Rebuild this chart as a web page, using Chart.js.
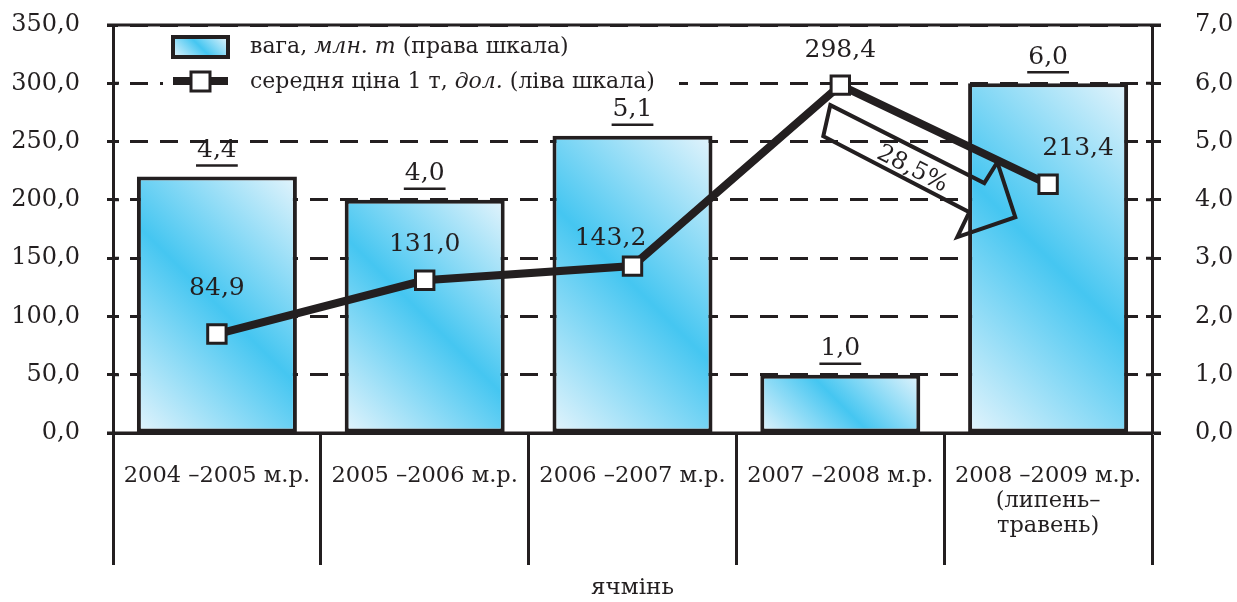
<!DOCTYPE html>
<html>
<head>
<meta charset="utf-8">
<script src="https://cdn.jsdelivr.net/npm/chart.js@4.4.0/dist/chart.umd.min.js"></script>
<style>
html, body { margin: 0; padding: 0; background: #fff; }
#wrap { width: 1237px; height: 602px; }
</style>
</head>
<body>
<div id="wrap"><canvas id="chart"></canvas></div>
<script>
const categories = [
    '2004 –2005 м.р.',
    '2005 –2006 м.р.',
    '2006 –2007 м.р.',
    '2007 –2008 м.р.',
    ['2008 –2009 м.р.', '(липень–', 'травень)']
];
const weightValues = [4.4, 4.0, 5.1, 1.0, 6.0];        // млн. т, right scale
const priceValues = [84.9, 131.0, 143.2, 298.4, 213.4]; // дол., left scale
const changeLabel = '28,5%';
const axisTitle = 'ячмінь';

const INK = '#231f20';
const CYAN = '#45c6f1';
const LIGHT = '#e4f4fc';
const FONT = '"DejaVu Serif", serif';
const BAR_FRACTION = 0.77;

const fmt = v => Number(v).toFixed(1).replace('.', ',');

function diagGradient(ctx, left, top, right, bottom) {
    const cx = (left + right) / 2, cy = (top + bottom) / 2;
    const d = ((right - left) + (bottom - top)) / 4;
    const g = ctx.createLinearGradient(cx - d, cy + d, cx + d, cy - d);
    g.addColorStop(0, LIGHT);
    g.addColorStop(0.5, CYAN);
    g.addColorStop(1, LIGHT);
    return g;
}

function barFill(c) {
    const chart = c.chart;
    const a = chart.chartArea;
    if (!a || c.type !== 'data') return CYAN;
    const half = (a.right - a.left) / categories.length * BAR_FRACTION / 2;
    const x = chart.scales.x.getPixelForValue(c.dataIndex);
    const top = chart.scales.y1.getPixelForValue(c.raw);
    const base = chart.scales.y1.getPixelForValue(0);
    return diagGradient(chart.ctx, x - half, top, x + half, base);
}

function drawRich(ctx, parts, x, y) {
    parts.forEach(([text, italic]) => {
        ctx.font = (italic ? 'italic ' : '') + '22px ' + FONT;
        ctx.fillText(text, x, y);
        x += ctx.measureText(text).width;
    });
}

// y axes: keep the plot top fixed, labels only need half their height
const fitY = width => s => {
    s.width = width;
    s.paddingTop = 12;
    s.paddingBottom = 12;
};

const decor = {
    id: 'decor',
    beforeDatasetsDraw(chart) {
        const {ctx, chartArea: a, scales} = chart;
        ctx.save();
        ctx.strokeStyle = INK;
        ctx.lineWidth = 3;
        ctx.beginPath();
        // solid top frame and base line
        ctx.moveTo(a.left - 6, a.top); ctx.lineTo(a.right + 9, a.top);
        ctx.moveTo(a.left - 6, a.bottom); ctx.lineTo(a.right + 9, a.bottom);
        // inner half of the tick marks
        scales.y.ticks.forEach(t => {
            const y = scales.y.getPixelForValue(t.value);
            ctx.moveTo(a.left, y); ctx.lineTo(a.left + 6, y);
            ctx.moveTo(a.right - 6, y); ctx.lineTo(a.right, y);
        });
        ctx.stroke();

        // legend
        const lx = a.left + 60;
        ctx.fillStyle = '#fff';
        ctx.fillRect(a.left + 50, a.top + 3, 516, 70);
        ctx.fillStyle = diagGradient(ctx, lx, a.top + 12, lx + 55, a.top + 32);
        ctx.fillRect(lx, a.top + 12, 55, 20);
        ctx.lineWidth = 4;
        ctx.strokeRect(lx, a.top + 12, 55, 20);
        ctx.lineWidth = 8;
        ctx.beginPath();
        ctx.moveTo(lx, a.top + 56); ctx.lineTo(lx + 55, a.top + 56);
        ctx.stroke();
        ctx.fillStyle = '#fff';
        ctx.lineWidth = 3;
        ctx.fillRect(lx + 18, a.top + 47, 19, 19);
        ctx.strokeRect(lx + 18, a.top + 47, 19, 19);

        ctx.fillStyle = INK;
        ctx.textBaseline = 'middle';
        ctx.textAlign = 'left';
        drawRich(ctx, [['вага, ', false], ['млн. т', true], [' (права шкала)', false]], a.left + 137, a.top + 22);
        drawRich(ctx, [['середня ціна 1 т, ', false], ['дол.', true], [' (ліва шкала)', false]], a.left + 137, a.top + 57);
        ctx.restore();
    },
    afterDatasetDraw(chart, args) {
        if (args.meta.type !== 'bar') return;
        // change arrow from the peak price point
        const p = chart.getDatasetMeta(0).data[3];
        const ctx = chart.ctx;
        const pts = [[-10, 20], [144, 98], [157, 77], [175, 132], [117, 152], [129, 127], [-17, 51]];
        ctx.save();
        ctx.strokeStyle = INK;
        ctx.lineWidth = 4;
        ctx.lineJoin = 'miter';
        ctx.beginPath();
        pts.forEach(([dx, dy], i) => {
            if (i === 0) ctx.moveTo(p.x + dx, p.y + dy);
            else ctx.lineTo(p.x + dx, p.y + dy);
        });
        ctx.closePath();
        ctx.stroke();
        ctx.translate(p.x + 72, p.y + 84);
        ctx.rotate(27 * Math.PI / 180);
        ctx.fillStyle = INK;
        ctx.font = '24px ' + FONT;
        ctx.textAlign = 'center';
        ctx.textBaseline = 'middle';
        ctx.fillText(changeLabel, 0, 0);
        ctx.restore();
    },
    afterDatasetsDraw(chart) {
        const ctx = chart.ctx;
        ctx.save();
        ctx.fillStyle = INK;
        ctx.strokeStyle = INK;
        ctx.textAlign = 'center';
        ctx.textBaseline = 'middle';
        ctx.font = '25px ' + FONT;
        chart.getDatasetMeta(1).data.forEach((el, i) => {
            const text = fmt(weightValues[i]);
            const w = ctx.measureText(text).width;
            const y = el.y - 26;
            ctx.fillText(text, el.x, y);
            ctx.lineWidth = 2.5;
            ctx.beginPath();
            ctx.moveTo(el.x - w / 2 - 1, y + 15);
            ctx.lineTo(el.x + w / 2 + 1, y + 15);
            ctx.stroke();
        });
        const offsets = [[0, -46], [0, -36], [-22, -28], [0, -35], [30, -36]];
        chart.getDatasetMeta(0).data.forEach((el, i) => {
            ctx.fillText(fmt(priceValues[i]), el.x + offsets[i][0], el.y + offsets[i][1]);
        });
        ctx.restore();
    }
};

Chart.defaults.font.family = FONT;
Chart.defaults.color = INK;

new Chart(document.getElementById('chart'), {
    data: {
        labels: categories,
        datasets: [{
            type: 'line',
            label: 'середня ціна 1 т, дол. (ліва шкала)',
            data: priceValues,
            yAxisID: 'y',
            order: 0,
            borderColor: INK,
            borderWidth: 8,
            tension: 0,
            pointStyle: 'rect',
            pointRadius: 13,
            pointBorderWidth: 3,
            pointBackgroundColor: '#fff',
            pointBorderColor: INK
        }, {
            type: 'bar',
            label: 'вага, млн. т (права шкала)',
            data: weightValues,
            yAxisID: 'y1',
            order: 1,
            backgroundColor: barFill,
            borderColor: INK,
            borderWidth: 4,
            borderSkipped: false,
            barPercentage: BAR_FRACTION,
            categoryPercentage: 1
        }]
    },
    options: {
        responsive: true,
        maintainAspectRatio: false,
        animation: false,
        layout: { padding: { top: 25, left: 0, right: 0, bottom: 0 } },
        plugins: { legend: { display: false }, tooltip: { enabled: false } },
        scales: {
            x: {
                offset: true,
                grid: { offset: true, drawOnChartArea: false, tickLength: 132, tickColor: INK, tickWidth: 3 },
                border: { color: INK, width: 3 },
                ticks: { font: { size: 22.5, lineHeight: 1.1 }, color: INK, padding: -101, maxRotation: 0, autoSkip: false },
                title: { display: true, text: axisTitle, font: { size: 23 }, color: INK, padding: 0 },
                afterFit: s => { s.height = 169; }
            },
            y: {
                position: 'left',
                min: 0,
                max: 350,
                ticks: { stepSize: 50, callback: v => fmt(v), font: { size: 24 }, color: INK, padding: 27 },
                grid: { color: INK, lineWidth: 3, tickLength: 6, tickColor: INK, tickWidth: 3 },
                border: { color: INK, width: 3, dash: [18, 12], dashOffset: 15 },
                afterFit: fitY(113)
            },
            y1: {
                position: 'right',
                min: 0,
                max: 7,
                ticks: { stepSize: 1, callback: v => fmt(v), font: { size: 24 }, color: INK, padding: 34 },
                grid: { drawOnChartArea: false, tickLength: 9, tickColor: INK, tickWidth: 3 },
                border: { color: INK, width: 3 },
                afterFit: fitY(85)
            }
        }
    },
    plugins: [decor]
});
</script>
</body>
</html>
